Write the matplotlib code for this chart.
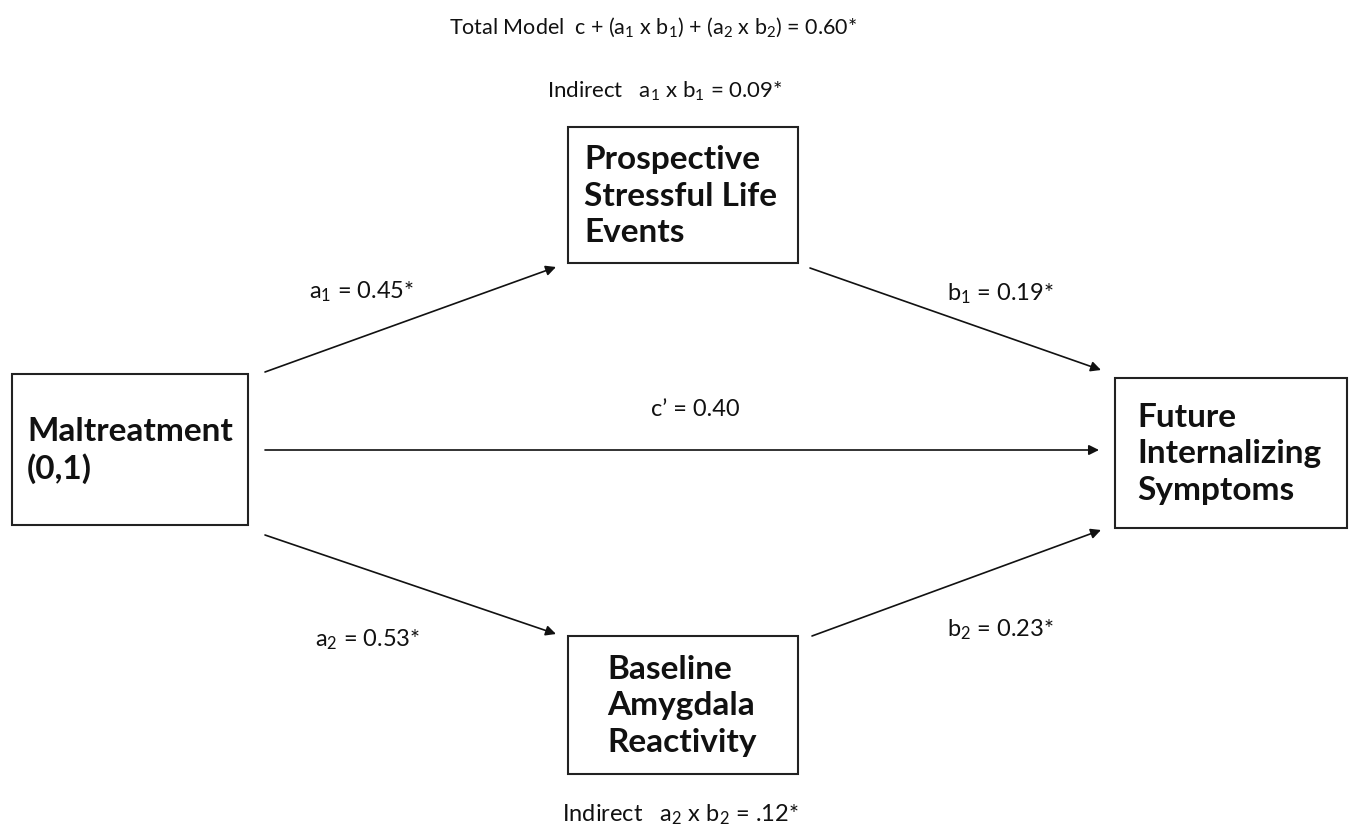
import matplotlib.pyplot as plt
from matplotlib.patches import Rectangle

plt.rcParams['font.family'] = ['Lato', 'DejaVu Sans']
plt.rcParams['mathtext.fontset'] = 'custom'
plt.rcParams['mathtext.rm'] = 'Lato'
plt.rcParams['mathtext.it'] = 'Lato'

# node labels
node_names = ['Maltreatment\n(0,1)',
              'Prospective\nStressful Life\nEvents',
              'Baseline\nAmygdala\nReactivity',
              'Future\nInternalizing\nSymptoms']

# path coefficients
a1, b1 = '0.45*', '0.19*'
a2, b2 = '0.53*', '0.23*'
c_prime = '0.40'
total_effect = '0.60*'
indirect_1 = '0.09*'
indirect_2 = '.12*'

# layout in pixel coordinates (x0, y0, x1, y1, text x)
boxes = [(12, 374, 248, 525, 27),
         (568, 127, 798, 263, 584),
         (568, 636, 798, 774, 607),
         (1115, 378, 1347, 528, 1137)]

fig = plt.figure(figsize=(13.6, 8.35), dpi=100)
ax = fig.add_axes([0, 0, 1, 1])
ax.set_xlim(0, 1360)
ax.set_ylim(835, 0)
ax.axis('off')

for (x0, y0, x1, y1, tx), name in zip(boxes, node_names):
    ax.add_patch(Rectangle((x0, y0), x1 - x0, y1 - y0, fill=False,
                           edgecolor='#222222', linewidth=1.5))
    ax.text(tx, (y0 + y1) / 2 + 1, name, ha='left', va='center',
            fontsize=24, fontweight='bold', linespacing=1.3, color='#111111')

def arrow(x0, y0, x1, y1):
    ax.annotate('', xy=(x1, y1), xytext=(x0, y0),
                arrowprops=dict(arrowstyle='-|>', color='#111111', lw=1.2,
                                mutation_scale=15, shrinkA=0, shrinkB=0))

arrow(265, 372, 556, 267)
arrow(810, 268, 1101, 370)
arrow(265, 450, 1099, 450)
arrow(265, 535, 556, 634)
arrow(812, 636, 1101, 530)

fs = 17
kw = dict(ha='center', va='center', color='#111111')
ax.text(653, 27, r'Total Model  c + (a$_1$ x b$_1$) + (a$_2$ x b$_2$) = ' + total_effect,
        fontsize=15.5, **kw)
ax.text(665, 91, r'Indirect   a$_1$ x b$_1$ = ' + indirect_1, fontsize=16, **kw)
ax.text(362, 292, r'a$_1$ = ' + a1, fontsize=fs, **kw)
ax.text(1000, 294, r'b$_1$ = ' + b1, fontsize=fs, **kw)
ax.text(695, 410, 'c\u2019 = ' + c_prime, fontsize=fs, **kw)
ax.text(368, 640, r'a$_2$ = ' + a2, fontsize=fs, **kw)
ax.text(1000, 630, r'b$_2$ = ' + b2, fontsize=fs, **kw)
ax.text(680, 815, r'Indirect   a$_2$ x b$_2$ = ' + indirect_2, fontsize=17, **kw)

fig.savefig('out.png', dpi=100, facecolor='white')
